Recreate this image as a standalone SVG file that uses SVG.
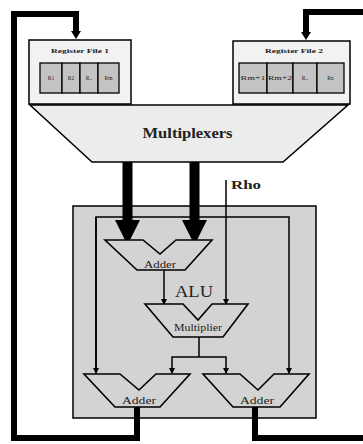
<svg xmlns="http://www.w3.org/2000/svg" width="363" height="444" viewBox="0 0 363 444">
<style>
.thick{fill:none;stroke:#000;stroke-width:6;stroke-linejoin:miter}
.thin{fill:none;stroke:#000;stroke-width:1.5}
.box{stroke:#000;stroke-width:1.5}
.cell{fill:#c4c4c4;stroke:#000;stroke-width:1.3}
.unit{fill:#d3d3d3;stroke:#000;stroke-width:1.6;stroke-linejoin:miter}
text{font-family:"Liberation Serif","DejaVu Serif",serif;fill:#222}
.rl{font-size:5.5px;text-anchor:middle}
.rf{font-size:7px;font-weight:bold;text-anchor:middle}
.ul{font-size:10px;text-anchor:middle}
</style>
<defs>
<marker id="ah" markerWidth="6" markerHeight="6" refX="5" refY="3" orient="auto" markerUnits="userSpaceOnUse">
<path d="M0,0 L6,3 L0,6 Z" fill="#000"/>
</marker>
</defs>
<rect width="363" height="444" fill="#fff"/>

<g id="alu">
<rect x="73" y="206" width="243" height="212" fill="#d3d3d3" stroke="#000" stroke-width="1.5"/>
<text x="194" y="297" font-size="17" text-anchor="middle" textLength="38" lengthAdjust="spacingAndGlyphs">ALU</text>
</g>

<g id="regfile1">
<rect class="box" x="29" y="40" width="102" height="64" fill="#f2f2f2"/>
<text class="rf" x="80" y="53" textLength="58" lengthAdjust="spacingAndGlyphs">Register File 1</text>
<rect class="cell" x="40" y="63" width="22" height="30"/>
<rect class="cell" x="62" y="63" width="18" height="30"/>
<rect class="cell" x="80" y="63" width="18" height="30"/>
<rect class="cell" x="98" y="63" width="21" height="30"/>
<text class="rl" x="51" y="80">R1</text>
<text class="rl" x="71" y="80">R2</text>
<text class="rl" x="89" y="80">R..</text>
<text class="rl" x="108.5" y="80">Rm</text>
</g>

<g id="regfile2">
<rect class="box" x="233" y="41" width="117" height="63" fill="#f2f2f2"/>
<text class="rf" x="294" y="53" textLength="58" lengthAdjust="spacingAndGlyphs">Register File 2</text>
<rect class="cell" x="239" y="63" width="28" height="30"/>
<rect class="cell" x="267" y="63" width="26" height="30"/>
<rect class="cell" x="293" y="63" width="24" height="30"/>
<rect class="cell" x="317" y="63" width="27" height="30"/>
<text class="rl" x="253" y="80" textLength="25" lengthAdjust="spacingAndGlyphs">Rm+1</text>
<text class="rl" x="280" y="80" textLength="24" lengthAdjust="spacingAndGlyphs">Rm+2</text>
<text class="rl" x="305" y="80">R..</text>
<text class="rl" x="330.5" y="80">Rn</text>
</g>

<g id="multiplexers">
<polygon points="30,105 348,105 283,162 92,162" fill="#ececec" stroke="#000" stroke-width="1.5"/>
<text x="187.5" y="138" font-size="14" font-weight="bold" text-anchor="middle" textLength="90" lengthAdjust="spacingAndGlyphs">Multiplexers</text>
</g>

<g id="connectors">
<path class="thick" d="M137,407 V438 H14 V14 H76 V32"/>
<polygon points="71,31 81,31 76,39" fill="#000"/>
<path class="thick" d="M255,407 V438 H363"/>
<path class="thick" d="M363,12 H306 V32"/>
<polygon points="301,32 311,32 306,40" fill="#000"/>
<rect x="122.5" y="162" width="10" height="59" fill="#000"/>
<polygon points="115,220 140,220 127.5,245" fill="#000"/>
<rect x="189.5" y="162" width="10" height="59" fill="#000"/>
<polygon points="182,220 207,220 194.5,245" fill="#000"/>
<path class="thin" d="M96,373 V217 H289 V373" marker-end="url(#ah)"/>
<path class="thin" d="M96,217 V373" marker-end="url(#ah)"/>
<path class="thin" d="M226,180 V304" marker-end="url(#ah)"/>
<path class="thin" d="M164,270 V304" marker-end="url(#ah)"/>
<path class="thin" d="M199,337 V357"/>
<path class="thin" d="M199,357 H172 V373" marker-end="url(#ah)"/>
<path class="thin" d="M199,357 H226 V373" marker-end="url(#ah)"/>
</g>

<g id="adder-top">
<polygon class="unit" points="105,240 143,240 160,254 176,240 212,240 185,270 137,270"/>
<text class="ul" x="160" y="268" textLength="32" lengthAdjust="spacingAndGlyphs">Adder</text>
</g>

<g id="multiplier">
<polygon class="unit" points="145,304 183,304 198,320 212,304 248,304 223,337 173,337"/>
<text class="ul" x="198" y="331" font-size="9" textLength="48" lengthAdjust="spacingAndGlyphs">Multiplier</text>
</g>

<g id="adder-left">
<polygon class="unit" points="84,374 120,374 139,390 156,374 190,374 160,407 115,407"/>
<text class="ul" x="139" y="404" textLength="34" lengthAdjust="spacingAndGlyphs">Adder</text>
</g>

<g id="adder-right">
<polygon class="unit" points="203,374 240,374 258,390 274,374 309,374 280,407 233,407"/>
<text class="ul" x="257" y="404" textLength="34" lengthAdjust="spacingAndGlyphs">Adder</text>
</g>

<g id="rho">
<text x="231" y="189" font-size="13" font-weight="bold" textLength="30" lengthAdjust="spacingAndGlyphs">Rho</text>
</g>
</svg>
